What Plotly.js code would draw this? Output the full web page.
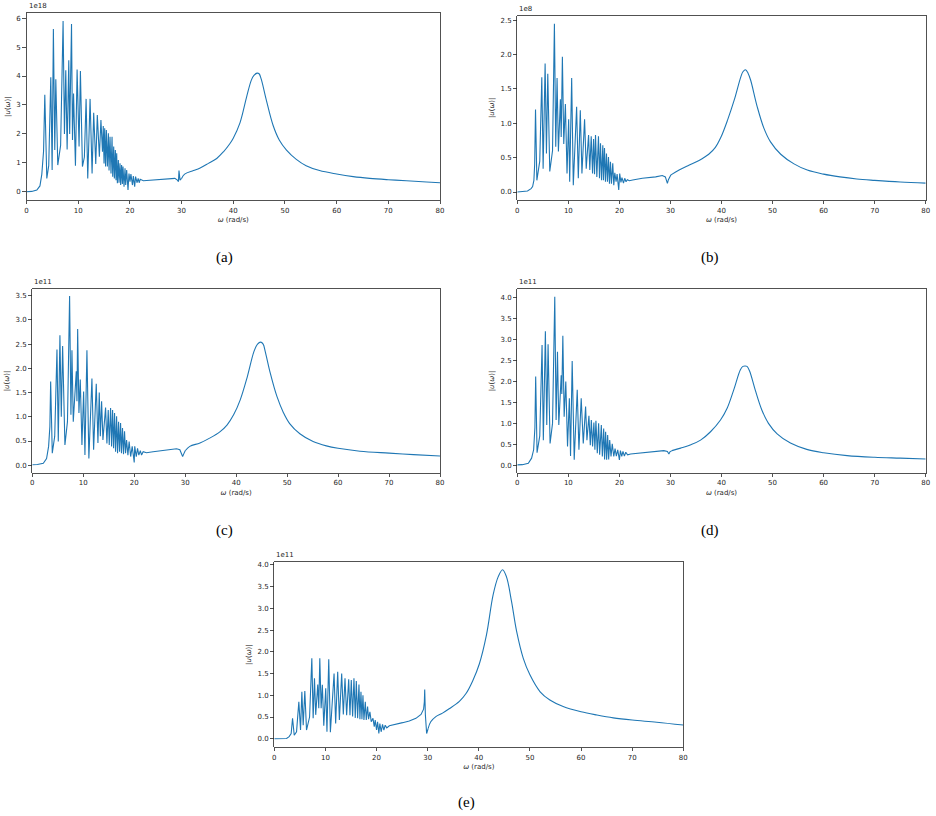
<!DOCTYPE html>
<html>
<head>
<meta charset="utf-8">
<script src="https://cdn.plot.ly/plotly-3.0.1.min.js"></script>
<style>html,body{margin:0;padding:0;background:#fff;}#chart{width:936px;height:816px;}</style>
</head>
<body>
<div id="chart"></div>
<script>
// ---------- data (values in units of the offset shown above each panel) ----------
const wA = [0,1,2,2.6,2.96,3.3,3.54,3.75,3.93,4.3,4.7,4.96,5.2,5.47,5.67,6.05,6.6,7.08,7.34,7.6,7.86,8.18,8.35,8.71,8.9,9.1,9.47,9.79,10.17,10.43,10.82,11.2,11.53,11.85,12.3,12.69,13.0,13.4,13.7,14.1,14.4,14.7,14.85,15.0,15.13,15.3,15.45,15.65,15.84,15.97,16.16,16.35,16.55,16.68,16.87,17.0,17.19,17.32,17.45,17.58,17.77,17.9,18.09,18.22,18.4,18.55,18.67,18.87,19.06,19.19,19.38,19.64,19.83,20.03,20.2,20.5,20.67,20.93,21.1,21.4,21.6,21.8,22.0,22.6,24.5,27.1,28.7,29.2,29.4,29.5,29.7,30.0,30.6,32.3,33.5,35.2,36.8,38.1,39.3,40.0,41.3,42.6,43.5,44.0,44.6,45.0,45.4,46.4,47.7,48.9,50.3,52.2,54.1,56.7,60,63.2,66.4,70,73.5,77.4,80];
const uA = [0,0.01,0.06,0.2,0.6,1.4,3.35,1.0,0.46,0.9,3.96,0.75,5.63,1.44,3.89,0.92,1.6,5.9,2.0,4.2,1.46,4.55,2.0,5.8,1.79,3.4,0.9,4.23,1.56,4.17,0.87,1.2,3.21,0.46,3.21,0.63,2.73,0.96,2.65,1.21,2.48,1.38,2.27,0.98,2.19,0.87,2.13,0.87,2.02,0.73,1.9,0.63,1.9,0.52,1.56,0.46,1.44,0.40,1.33,0.29,1.10,0.31,0.98,0.23,0.92,0.27,0.87,0.17,0.81,0.23,0.75,0.06,0.63,0.35,0.61,0.23,0.54,0.17,0.52,0.31,0.46,0.31,0.43,0.38,0.40,0.45,0.46,0.40,0.35,0.73,0.40,0.46,0.61,0.73,0.81,0.98,1.15,1.38,1.65,1.85,2.38,3.29,3.86,4.02,4.1,4.08,3.9,3.17,2.3,1.79,1.44,1.12,0.9,0.73,0.61,0.52,0.46,0.415,0.38,0.335,0.31];

const wB = [0,1,2,2.7,3.0,3.25,3.4,3.57,3.7,3.83,4.4,4.8,5.06,5.45,5.71,5.97,6.36,6.9,7.27,7.53,7.79,8.05,8.44,8.6,8.83,9.1,9.42,9.74,10.06,10.26,10.65,10.97,11.62,11.95,12.34,12.66,13.18,13.5,13.96,14.2,14.48,14.74,14.94,15.13,15.32,15.58,15.9,16.1,16.3,16.5,16.75,16.88,17.08,17.27,17.47,17.66,17.86,18.05,18.25,18.44,18.7,18.9,19.1,19.35,19.55,19.87,20.06,20.3,20.5,20.8,21.04,21.3,21.56,21.95,22.6,24.5,27.1,28.4,29.0,29.3,29.4,29.6,30.1,31.7,33.6,35.6,37.5,38.8,39.9,41.2,42.5,43.8,44.2,44.7,45.2,45.7,47.0,48.3,49.6,51.6,54.2,56.8,60,63.2,66.5,70,75,80];
const uB = [0,0.003,0.015,0.05,0.08,0.17,0.4,1.2,0.4,0.17,0.45,1.67,0.34,1.87,0.56,1.72,0.30,0.6,2.45,0.66,1.66,0.59,1.35,0.8,1.97,0.7,1.28,0.27,1.06,0.15,1.66,0.10,1.24,0.2,1.19,0.27,1.06,0.34,0.83,0.32,0.81,0.27,0.77,0.26,0.83,0.22,0.81,0.2,0.71,0.17,0.68,0.17,0.64,0.15,0.56,0.15,0.51,0.12,0.44,0.12,0.42,0.1,0.28,0.15,0.26,0.03,0.27,0.14,0.21,0.13,0.20,0.15,0.18,0.165,0.175,0.2,0.22,0.24,0.22,0.15,0.125,0.18,0.25,0.32,0.39,0.46,0.55,0.65,0.80,1.05,1.34,1.68,1.75,1.78,1.73,1.63,1.24,0.93,0.73,0.55,0.41,0.32,0.26,0.22,0.19,0.17,0.146,0.13];

const wC = [0,1,2.16,2.8,3.2,3.45,3.6,3.75,3.92,4.4,4.84,5.1,5.42,5.69,5.95,6.4,6.9,7.32,7.58,7.78,8.04,8.63,8.76,8.9,9.15,9.41,9.74,10.07,10.33,10.72,11.1,11.7,12.03,12.55,12.88,13.14,13.35,13.6,13.86,14.38,14.64,14.9,15.1,15.36,15.56,15.75,15.95,16.14,16.34,16.54,16.73,16.93,17.12,17.32,17.5,17.7,17.9,18.1,18.3,18.5,18.76,19.0,19.3,19.6,20.0,20.1,20.4,20.65,20.9,21.2,21.44,21.76,22.4,23.7,26.3,28.3,28.95,29.3,29.5,29.7,30.0,30.9,32.9,34.8,36.8,38.2,39.5,40.8,42.2,43.5,44.2,44.8,45.3,45.7,46.7,48.0,49.3,50.5,52.5,55.1,57.7,60,64.3,70,74.8,80];
const uC = [0.01,0.015,0.04,0.14,0.39,0.8,1.73,0.6,0.25,0.6,2.39,0.49,2.68,1.0,2.46,0.42,0.9,3.49,1.04,2.37,0.9,1.94,1.32,2.81,1.08,1.77,0.42,1.52,0.21,2.37,0.14,1.79,0.32,1.68,0.46,1.5,0.6,1.32,0.52,1.19,0.45,1.14,0.42,1.18,0.39,1.14,0.35,1.08,0.28,1.01,0.25,0.9,0.28,0.87,0.25,0.77,0.23,0.70,0.25,0.52,0.21,0.49,0.18,0.39,0.06,0.39,0.18,0.35,0.21,0.30,0.21,0.28,0.26,0.28,0.31,0.34,0.32,0.25,0.18,0.23,0.30,0.39,0.46,0.56,0.69,0.83,1.04,1.35,1.83,2.35,2.5,2.54,2.5,2.35,1.9,1.42,1.08,0.86,0.65,0.49,0.40,0.35,0.29,0.25,0.22,0.19];

const wD = [0,1,2.16,2.8,3.2,3.45,3.6,3.75,3.87,4.4,4.85,5.1,5.5,5.77,6.03,6.42,6.9,7.34,7.6,7.87,8.13,8.6,8.72,8.92,9.18,9.5,9.84,10.2,10.43,10.75,11.15,11.74,12.07,12.52,12.92,13.38,13.64,14.03,14.3,14.5,14.75,15.0,15.2,15.4,15.67,15.93,16.13,16.46,16.66,16.92,17.1,17.3,17.5,17.7,17.9,18.1,18.36,18.6,18.9,19.15,19.4,19.67,20.0,20.2,20.46,20.7,20.98,21.25,21.6,22.2,24.1,26.75,28.7,29.4,29.7,29.9,30.3,32.0,34.0,35.9,37.85,39.8,41.1,42.4,43.7,44.2,44.6,45.0,45.5,46.6,47.9,49.2,50.9,53.5,56.7,60,64.6,70,75,80];
const uD = [0.01,0.015,0.05,0.17,0.37,0.9,2.12,0.7,0.3,0.7,2.87,0.6,3.2,0.96,2.89,0.52,1.0,4.02,1.08,2.71,0.96,2.15,1.7,3.09,1.16,2.0,0.45,1.6,0.22,2.49,0.13,1.8,0.37,1.6,0.52,1.4,0.6,1.18,0.48,1.08,0.45,1.02,0.37,1.06,0.29,1.0,0.25,0.96,0.21,0.88,0.14,0.80,0.13,0.72,0.14,0.6,0.21,0.51,0.21,0.4,0.22,0.37,0.13,0.35,0.21,0.33,0.22,0.31,0.25,0.27,0.29,0.32,0.35,0.33,0.27,0.32,0.35,0.41,0.49,0.6,0.8,1.08,1.36,1.8,2.28,2.36,2.37,2.36,2.25,1.8,1.32,1.0,0.75,0.53,0.38,0.30,0.23,0.19,0.17,0.15];

const wE = [0,1,2.4,2.9,3.3,3.57,3.75,3.9,4.35,4.8,5.13,5.39,5.65,5.97,6.3,6.9,7.34,7.6,7.86,8.1,8.5,8.7,8.9,9.16,9.4,9.68,10.06,10.3,10.65,10.97,11.69,12.0,12.4,12.73,13.18,13.5,13.83,14.15,14.55,14.8,15.06,15.32,15.58,15.84,16.04,16.3,16.56,16.75,16.95,17.14,17.34,17.53,17.8,17.99,18.25,18.44,18.7,18.96,19.3,19.55,19.74,20.0,20.2,20.45,20.65,20.9,21.17,21.43,21.69,22.0,22.5,23.8,25.1,26.4,27.7,28.7,29.2,29.35,29.42,29.55,29.7,29.8,30.1,30.6,31.6,32.9,34.2,36.2,37.5,38.8,40.1,41.5,42.8,43.8,44.65,45.4,46.4,47.4,48.7,50,52,53.9,56.5,60,63.1,66.3,70,74.8,80];
const uE = [0,0,0.005,0.05,0.12,0.47,0.15,0.08,0.16,0.85,0.2,1.08,0.31,1.1,0.2,0.5,1.85,0.47,1.39,0.55,1.25,0.7,1.85,0.7,1.24,0.3,1.16,0.16,1.83,0.15,1.5,0.35,1.54,0.43,1.5,0.56,1.39,0.54,1.37,0.54,1.35,0.51,1.39,0.48,1.33,0.47,1.25,0.45,1.08,0.45,1.0,0.43,0.85,0.43,0.74,0.45,0.62,0.39,0.47,0.28,0.43,0.2,0.39,0.12,0.35,0.16,0.33,0.2,0.31,0.25,0.3,0.33,0.37,0.41,0.47,0.56,0.68,0.85,1.13,0.55,0.16,0.12,0.24,0.39,0.51,0.59,0.69,0.86,1.04,1.33,1.72,2.39,3.31,3.73,3.89,3.73,3.16,2.47,1.85,1.47,1.08,0.89,0.74,0.62,0.545,0.48,0.43,0.38,0.315];

const offsets = ["1e18","1e8","1e11","1e11","1e11"];
const captions = ["(a)","(b)","(c)","(d)","(e)"];
const xTicks = [0,10,20,30,40,50,60,70,80];

// ---------- layout geometry (pixels in the 936x816 page) ----------
const W = 936, H = 816;
const boxes = [
  {l:26.5, r:440,   t:13.3,  b:200,   yr:[-0.287,6.17], dt:1,   fmt:"d"},
  {l:517.3,r:925.7, t:15.7,  b:200,   yr:[-0.116,2.566],dt:0.5, fmt:".1f"},
  {l:32.3, r:440,   t:289.3, b:472.7, yr:[-0.153,3.63], dt:0.5, fmt:".1f"},
  {l:517.3,r:925.7, t:289.3, b:472.7, yr:[-0.177,4.2],  dt:0.5, fmt:".1f"},
  {l:274.3,r:683.3, t:562.3, b:747,   yr:[-0.19,4.06],  dt:0.5, fmt:".1f"}
];
const capPos = [[224,257],[710,257],[224,530],[710,530],[466,802]];
const series = [[wA,uA],[wB,uB],[wC,uC],[wD,uD],[wE,uE]];
const SMOOTH_FROM = 30; // the broad resonance part is drawn as a smooth curve

const px = x => x / W, py = y => 1 - y / H;
const ink = "#262626";
const tickFont = {family:"DejaVu Sans, sans-serif", size:7, color:ink};

const data = [], layout = {
  width:W, height:H, margin:{l:0,r:0,t:0,b:0},
  paper_bgcolor:"#fff", plot_bgcolor:"#fff", showlegend:false,
  annotations:[]
};

series.forEach((s, i) => {
  const n = i === 0 ? "" : String(i + 1);
  const w = s[0], u = s[1];
  const k = w.findIndex(v => v >= SMOOTH_FROM);
  data.push({
    x:w.slice(0, k + 1), y:u.slice(0, k + 1), type:"scatter", mode:"lines",
    line:{color:"#1f77b4", width:1.1},
    xaxis:"x"+n, yaxis:"y"+n, hoverinfo:"skip"
  });
  data.push({
    x:w.slice(k), y:u.slice(k), type:"scatter", mode:"lines",
    line:{color:"#1f77b4", width:1.1, shape:"spline", smoothing:1},
    xaxis:"x"+n, yaxis:"y"+n, hoverinfo:"skip"
  });
  const b = boxes[i];
  layout["xaxis"+n] = {
    domain:[px(b.l), px(b.r)], anchor:"y"+n, range:[0,80],
    tickmode:"array", tickvals:xTicks, ticktext:xTicks.map(String),
    ticks:"outside", ticklen:3.5, tickwidth:0.8, tickcolor:ink,
    showline:true, mirror:true, linecolor:ink, linewidth:0.8,
    showgrid:false, zeroline:false, tickfont:tickFont,
    title:{text:"<i>ω</i> (rad/s)", font:{family:"DejaVu Sans, sans-serif", size:7, color:ink}, standoff:3}
  };
  layout["yaxis"+n] = {
    domain:[py(b.b), py(b.t)], anchor:"x"+n, range:b.yr,
    dtick:b.dt, tick0:0, tickformat:b.fmt,
    ticks:"outside", ticklen:3.5, tickwidth:0.8, tickcolor:ink,
    showline:true, mirror:true, linecolor:ink, linewidth:0.8,
    showgrid:false, zeroline:false, tickfont:tickFont,
    title:{text:"|<i>u</i>(<i>ω</i>)|", font:{family:"DejaVu Sans, sans-serif", size:7, color:ink}, standoff:4}
  };
  layout.annotations.push({
    xref:"paper", yref:"paper", x:px(b.l), y:py(b.t)+0.001, xanchor:"left", yanchor:"bottom",
    text:offsets[i], showarrow:false, font:{family:"DejaVu Sans, sans-serif", size:7, color:ink}
  });
  layout.annotations.push({
    xref:"paper", yref:"paper", x:px(capPos[i][0]), y:py(capPos[i][1]), xanchor:"center", yanchor:"middle",
    text:captions[i], showarrow:false, font:{family:"Liberation Serif, DejaVu Serif, serif", size:15, color:"#000"}
  });
});

Plotly.newPlot("chart", data, layout, {staticPlot:true, displayModeBar:false});
</script>
</body>
</html>
